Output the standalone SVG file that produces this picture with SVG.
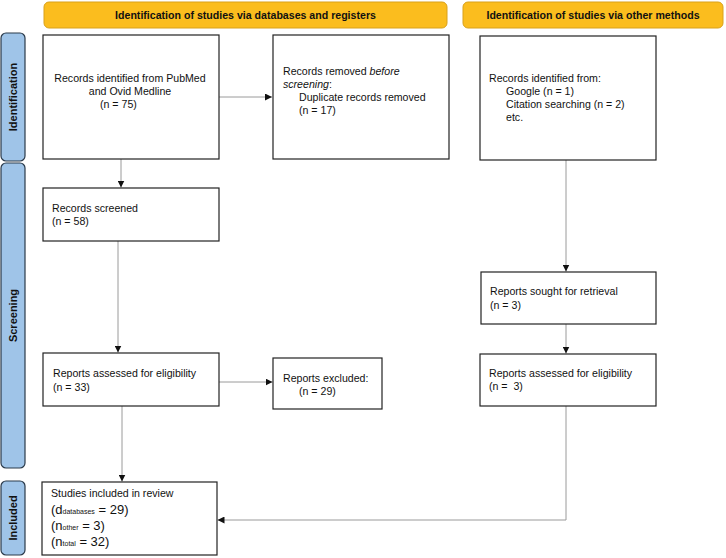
<svg xmlns="http://www.w3.org/2000/svg" width="726" height="558" viewBox="0 0 726 558">
<style>
text{font-family:"Liberation Sans",Arial,sans-serif;fill:#111}
.t{font-size:10.6px}
.big{font-size:13px}
.sub{font-size:7px}
.hdr{fill:#FBBD1E;stroke:#D9A11A;stroke-width:1}
.hdrt{font-size:10.6px;font-weight:bold;text-anchor:middle}
.side{fill:#9FC4E8;stroke:#2B3A4A;stroke-width:1.2}
.sidet{font-size:11px;font-weight:bold;text-anchor:middle}
.box{fill:#fff;stroke:#222;stroke-width:1.2}
.c{fill:none;stroke:#9a9a9a;stroke-width:1}
</style>
<defs>
<marker id="ah" viewBox="0 0 10 10" refX="10" refY="5" markerWidth="7" markerHeight="7" markerUnits="userSpaceOnUse" orient="auto">
<path d="M0,0 L10,5 L0,10 z" fill="#111"/>
</marker>
</defs>
<rect width="726" height="558" fill="#fff"/>
<g id="header-databases">
<rect class="hdr" x="44" y="2" width="403" height="26" rx="5"/>
<text class="hdrt" x="245.5" y="19">Identification of studies via databases and registers</text>
</g>
<g id="header-other">
<rect class="hdr" x="463" y="2" width="260" height="26" rx="5"/>
<text class="hdrt" x="593" y="19">Identification of studies via other methods</text>
</g>
<g id="side-identification">
<rect class="side" x="1" y="33" width="24" height="128" rx="5"/>
<text class="sidet" transform="translate(17,97) rotate(-90)">Identification</text>
</g>
<g id="side-screening">
<rect class="side" x="1" y="163" width="24" height="305" rx="5"/>
<text class="sidet" transform="translate(17,315.5) rotate(-90)">Screening</text>
</g>
<g id="side-included">
<rect class="side" x="1" y="481" width="24" height="74" rx="5"/>
<text class="sidet" transform="translate(17,518) rotate(-90)">Included</text>
</g>
<g id="connectors">
<line class="c" x1="219" y1="97" x2="272" y2="97" marker-end="url(#ah)"/>
<line class="c" x1="121" y1="159" x2="121" y2="187.5" marker-end="url(#ah)"/>
<line class="c" x1="118" y1="241" x2="118" y2="352.5" marker-end="url(#ah)"/>
<line class="c" x1="219" y1="382" x2="272.5" y2="382" marker-end="url(#ah)"/>
<line class="c" x1="122" y1="406" x2="122" y2="481.5" marker-end="url(#ah)"/>
<line class="c" x1="566" y1="160" x2="566" y2="271.5" marker-end="url(#ah)"/>
<line class="c" x1="566" y1="324" x2="566" y2="353.5" marker-end="url(#ah)"/>
<polyline class="c" points="566,406 566,520 217.5,520" marker-end="url(#ah)"/>
</g>
<g id="records-identified">
<rect class="box" x="43" y="35" width="176" height="124"/>
<text class="t" x="130" y="82" text-anchor="middle">Records identified from PubMed</text>
<text class="t" x="130" y="95" text-anchor="middle">and Ovid Medline</text>
<text class="t" x="100" y="108">(n = 75)</text>
</g>
<g id="records-removed">
<rect class="box" x="273" y="35" width="176" height="124"/>
<text class="t" x="283" y="75">Records removed <tspan font-style="italic">before</tspan></text>
<text class="t" x="283" y="88"><tspan font-style="italic">screening</tspan>:</text>
<text class="t" x="299" y="101">Duplicate records removed</text>
<text class="t" x="299" y="114">(n = 17)</text>
</g>
<g id="records-other">
<rect class="box" x="480" y="36" width="176" height="124"/>
<text class="t" x="489" y="82">Records identified from:</text>
<text class="t" x="506" y="95">Google (n = 1)</text>
<text class="t" x="506" y="108">Citation searching (n = 2)</text>
<text class="t" x="506" y="121">etc.</text>
</g>
<g id="records-screened">
<rect class="box" x="43" y="188" width="176" height="53"/>
<text class="t" x="52" y="212">Records screened</text>
<text class="t" x="52" y="225">(n = 58)</text>
</g>
<g id="reports-assessed">
<rect class="box" x="43" y="353" width="176" height="53"/>
<text class="t" x="53" y="377">Reports assessed for eligibility</text>
<text class="t" x="53" y="391">(n = 33)</text>
</g>
<g id="reports-excluded">
<rect class="box" x="273" y="358" width="109" height="51"/>
<text class="t" x="283" y="382">Reports excluded:</text>
<text class="t" x="299" y="395">(n = 29)</text>
</g>
<g id="reports-sought">
<rect class="box" x="481" y="272" width="175" height="52"/>
<text class="t" x="490" y="295">Reports sought for retrieval</text>
<text class="t" x="490" y="309">(n = 3)</text>
</g>
<g id="reports-assessed-other">
<rect class="box" x="480" y="354" width="176" height="52"/>
<text class="t" x="489" y="377">Reports assessed for eligibility</text>
<text class="t" x="489" y="390">(n = &#160;3)</text>
</g>
<g id="studies-included">
<rect class="box" x="42" y="482" width="175" height="73"/>
<text class="t" x="51" y="497">Studies included in review</text>
<text class="big" x="51" y="514">(d<tspan class="sub">databases</tspan> = 29)</text>
<text class="big" x="51" y="530">(n<tspan class="sub">other</tspan> = 3)</text>
<text class="big" x="51" y="546">(n<tspan class="sub">total</tspan> = 32)</text>
</g>
</svg>
